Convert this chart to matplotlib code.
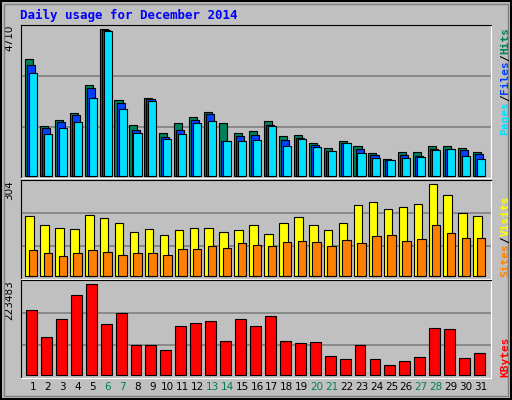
import matplotlib
matplotlib.use("Agg")
import matplotlib.pyplot as plt
from matplotlib.patches import Rectangle

days = list(range(1, 32))
weekend = [6, 7, 13, 14, 20, 21, 27, 28]
hits = [3749,1602,1794,2019,2916,4710,2446,1634,2499,1378,1698,1890,2051,1698,1378,1442,1762,1282,1314,1057,897,1121,961,737,545,769,769,961,961,897,769]
files = [3556,1538,1730,1954,2820,4689,2339,1474,2467,1250,1474,1794,1987,1121,1282,1314,1634,1153,1218,993,801,1057,865,673,513,673,641,865,865,833,705]
pages = [3300,1346,1538,1730,2499,4646,2147,1378,2403,1185,1346,1698,1762,1121,1121,1153,1602,961,1185,929,801,1057,737,577,513,577,609,833,865,641,545]
visits = [198,168,159,155,201,192,175,145,155,135,152,159,159,145,152,168,139,175,195,168,152,175,235,244,221,228,238,304,268,208,198]
sites = [86,76,66,76,86,79,69,76,76,69,89,89,99,92,109,102,99,112,116,112,99,119,109,132,135,116,122,168,142,126,126]
kbytes = [159627,93320,137525,196464,223483,125246,152260,73674,73674,61395,120334,127702,132613,83497,137525,120334,144892,83497,78586,81041,46660,39293,73674,39293,24558,34381,44204,115423,112967,41749,54028]

BG = "#C0C0C0"
fig = plt.figure(figsize=(5.12, 4.0), dpi=100, facecolor=BG)
fig.patches.append(Rectangle((0.002, 0.002), 0.996, 0.995, transform=fig.transFigure,
                             fill=False, edgecolor="black", lw=1.5))
fig.patches.append(Rectangle((0.008, 0.01), 0.984, 0.98, transform=fig.transFigure,
                             fill=False, edgecolor="#808080", lw=1.0))

def mkax(rect, ylim):
    ax = fig.add_axes(rect, facecolor=BG)
    ax.set_xlim(0.2, 31.67)
    ax.set_ylim(*ylim)
    ax.set_xticks([]); ax.set_yticks([])
    for s in ("top", "left"):
        ax.spines[s].set_color("black")
    for s in ("bottom", "right"):
        ax.spines[s].set_color("white")
    for f in (1/3, 2/3):
        ax.axhline(ylim[0] + f*(ylim[1]-ylim[0]), color="#808080", lw=1.2, zorder=0)
    return ax

ec = dict(edgecolor="black", linewidth=0.8)
ax1 = mkax([0.041, 0.555, 0.918, 0.3825], (-54, 4848))
ax1.bar([d-0.27 for d in days], hits, width=0.54, color="#00805C", **ec)
ax1.bar([d-0.13 for d in days], files, width=0.54, color="#0040FF", **ec)
ax1.bar(days, pages, width=0.54, color="#00E0FF", **ec)

ax2 = mkax([0.041, 0.3025, 0.918, 0.2475], (-9, 318))
ax2.bar([d-0.23 for d in days], visits, width=0.57, color="#FFFF00", **ec)
ax2.bar(days, sites, width=0.57, color="#FF8000", **ec)

ax3 = mkax([0.041, 0.055, 0.918, 0.245], (-6630, 233306))
ax3.bar([d-0.1 for d in days], kbytes, width=0.73, color="#FF0000", **ec)

for d in days:
    ax3.text(d, -0.04, str(d), transform=ax3.get_xaxis_transform(), ha="center", va="top",
             fontsize=7.5, color="#00805C" if d in weekend else "black")

fig.text(0.039, 0.962, "Daily usage for December 2014", fontsize=9, fontweight="bold",
         family="DejaVu Sans Mono", color="#0000FF", va="center")

def ylab(ax, s):
    ax.text(-0.015, 1.0, s, transform=ax.transAxes, rotation=90, ha="right", va="top", fontsize=7.5)
ylab(ax1, "4710"); ylab(ax2, "304"); ylab(ax3, "223483")

renderer = fig.canvas.get_renderer()
H = 400.0
def rlab(parts, ytop_px=None, ybot_px=None):
    # parts listed bottom-to-top
    texts = []
    for s, c in parts:
        t = fig.text(0.977, 0, s, rotation=90, ha="left", va="bottom", fontsize=8,
                     fontweight="bold", family="DejaVu Sans Mono", color=c)
        texts.append(t)
    hs = [t.get_window_extent(renderer).height for t in texts]
    total = sum(hs)
    y = (H - ybot_px) if ybot_px is not None else (H - ytop_px - total)
    for t, h in zip(texts, hs):
        t.set_y(y / H)
        y += h

rlab([("Pages", "#00E0FF"), ("/", "black"), ("Files", "#0040FF"), ("/", "black"), ("Hits", "#00805C")], ytop_px=27)
rlab([("Sites", "#FF8000"), ("/", "black"), ("Visits", "#FFFF00")], ybot_px=277)
rlab([("KBytes", "#FF0000")], ybot_px=377)

fig.savefig("out.png", dpi=100, facecolor=BG)
